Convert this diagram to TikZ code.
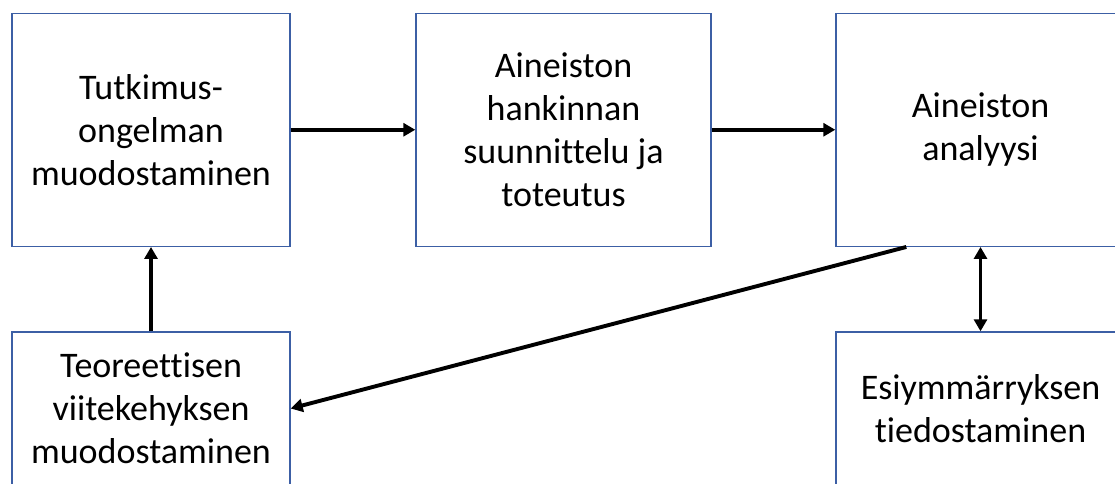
\documentclass[tikz,border=0pt]{standalone}
\usepackage{fontspec}
\setmainfont[Ligatures=NoCommon,RawFeature={-liga;-clig;-calt;-dlig}]{Carlito}
\usetikzlibrary{arrows.meta,calc}
\definecolor{boxline}{RGB}{60,95,165}
\tikzset{
  box/.style={draw=boxline, line width=1.4pt, rectangle, align=center,
    inner sep=0pt, font=\fontsize{36}{43}\selectfont},
  flow/.style={line width=3.9pt, -{Triangle[length=12pt,width=13pt]}},
  biflow/.style={line width=3.9pt, {Triangle[length=12pt,width=13pt]}-{Triangle[length=12pt,width=13pt]}}
}
\begin{document}
\begin{tikzpicture}[x=1pt,y=-1pt]
\useasboundingbox (0,0) rectangle (1115,483);
\begin{scope}
\clip (0,0) rectangle (1115,483);
\node[box, minimum width=278pt, minimum height=233pt] (b1) at (151,129.75)
  {Tutkimus-\\ongelman\\muodostaminen};
\node[box, minimum width=295pt, minimum height=233pt] (b2) at (563.5,129.75)
  {Aineiston\\hankinnan\\suunnittelu ja\\toteutus};
\node[box, minimum width=289pt, minimum height=233pt] (b3) at (980.5,129.75)
  {Aineiston\\analyysi};
\node[box, minimum width=278pt, minimum height=153pt] (b4) at (151,408.5)
  {Teoreettisen\\viitekehyksen\\muodostaminen};
\node[box, minimum width=289pt, minimum height=153pt] (b5) at (980.5,408.5)
  {Esiymmärryksen\\tiedostaminen};
\end{scope}
\draw[flow] (b1.east) -- (b2.west);
\draw[flow] (b2.east) -- (b3.west);
\draw[flow] (b4.north) -- (b1.south);
\draw[biflow] (b3.south) -- (b5.north);
\coordinate (d0) at ($(b3.south west)+(71,0)$);
\draw[flow] (d0) -- (b4.east);
\end{tikzpicture}
\end{document}
